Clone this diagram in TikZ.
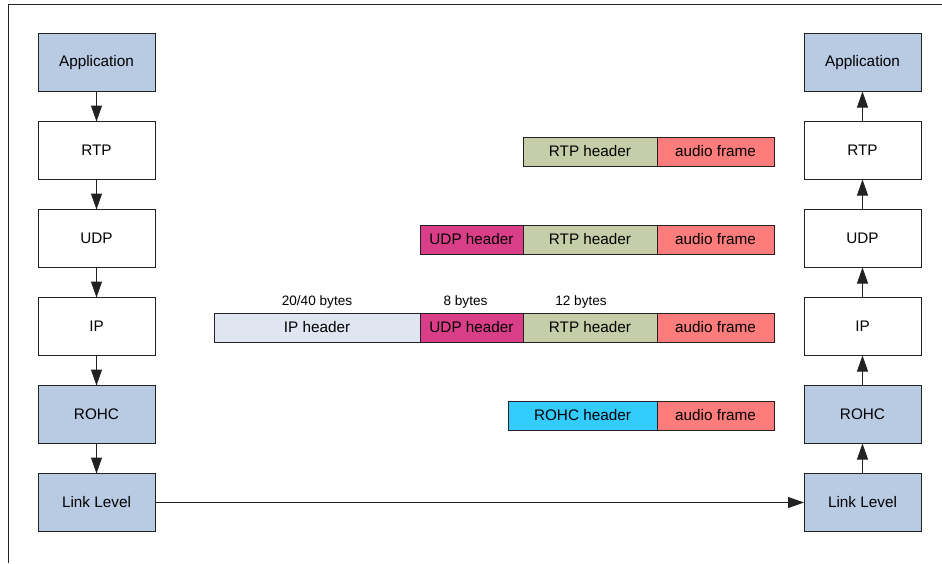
\documentclass[tikz,border=0pt]{standalone}
\usepackage{fontspec}
\setmainfont{Liberation Sans}
\usetikzlibrary{positioning,arrows.meta}
\definecolor{layerBlue}{HTML}{B9CAE3}
\definecolor{ipBg}{HTML}{DFE6F2}
\definecolor{udpBg}{HTML}{DB3E88}
\definecolor{rtpBg}{HTML}{C6CEA9}
\definecolor{audioBg}{HTML}{FF7C7C}
\definecolor{rohcBg}{HTML}{33CCFF}
\definecolor{lineDark}{HTML}{222222}
\tikzset{
  layer/.style={rectangle,draw=lineDark,fill=white,line width=1pt,
    minimum width=117pt,minimum height=58pt,inner sep=0pt,outer sep=0pt,
    align=center,font=\fontsize{15.3}{17}\selectfont},
  blayer/.style={layer,fill=layerBlue},
  field/.style={rectangle,draw=lineDark,line width=1pt,
    minimum height=29pt,inner sep=0pt,outer sep=0pt,
    font=\fontsize{15.3}{17}\selectfont},
  iphdr/.style={field,fill=ipBg,minimum width=206pt},
  udphdr/.style={field,fill=udpBg,minimum width=103pt},
  rtphdr/.style={field,fill=rtpBg,minimum width=134pt},
  rohchdr/.style={field,fill=rohcBg,minimum width=149pt},
  audio/.style={field,fill=audioBg,minimum width=117pt},
  sizelabel/.style={font=\fontsize{13.6}{15}\selectfont,inner sep=0pt},
  arrow/.style={-{Triangle[length=16pt,width=11pt]},line width=1pt,draw=lineDark}
}

\begin{document}
\begin{tikzpicture}[x=1pt,y=-1pt,node distance=88pt]
\useasboundingbox (0,0) rectangle (942,563);
% frame
\draw[line width=1pt,lineDark] (8,563) -- (8,4) -- (942,4);

% sending stack
\node[blayer] (sApp) at (96.5,62.5) {Application};
\node[layer, below of=sApp] (sRtp) {RTP};
\node[layer, below of=sRtp] (sUdp) {UDP};
\node[layer, below of=sUdp] (sIp) {IP};
\node[blayer, below of=sIp] (sRohc) {ROHC};
\node[blayer, below of=sRohc] (sLink) {Link Level};

% receiving stack
\node[blayer] (rApp) at (862.5,62.5) {Application};
\node[layer, below of=rApp] (rRtp) {RTP};
\node[layer, below of=rRtp] (rUdp) {UDP};
\node[layer, below of=rUdp] (rIp) {IP};
\node[blayer, below of=rIp] (rRohc) {ROHC};
\node[blayer, below of=rRohc] (rLink) {Link Level};

% packets
\node[audio, anchor=east] (aRtp) at (774,151.5) {audio frame};
\node[rtphdr, left=0pt of aRtp] (hRtp) {RTP header};

\node[audio, anchor=east] (aUdp) at (774,239.5) {audio frame};
\node[rtphdr, left=0pt of aUdp] (hUdpRtp) {RTP header};
\node[udphdr, left=0pt of hUdpRtp] (hUdp) {UDP header};

\node[audio, anchor=east] (aIp) at (774,327.5) {audio frame};
\node[rtphdr, left=0pt of aIp] (hIpRtp) {RTP header};
\node[udphdr, left=0pt of hIpRtp] (hIpUdp) {UDP header};
\node[iphdr, left=0pt of hIpUdp] (hIp) {IP header};

\node[audio, anchor=east] (aRohc) at (774,415.5) {audio frame};
\node[rohchdr, left=0pt of aRohc] (hRohc) {ROHC header};

% header sizes
\node[sizelabel, above=4pt of hIp] (lIp) {20/40 bytes};
\node[sizelabel, above=4pt of hIpUdp, xshift=-6pt] (lUdp) {8 bytes};
\node[sizelabel, above=4pt of hIpRtp, xshift=-9pt] (lRtp) {12 bytes};

\draw[arrow] (sApp) -- (sRtp);
\draw[arrow] (sRtp) -- (sUdp);
\draw[arrow] (sUdp) -- (sIp);
\draw[arrow] (sIp) -- (sRohc);
\draw[arrow] (sRohc) -- (sLink);
\draw[arrow] (sLink) -- (rLink);
\draw[arrow] (rLink) -- (rRohc);
\draw[arrow] (rRohc) -- (rIp);
\draw[arrow] (rIp) -- (rUdp);
\draw[arrow] (rUdp) -- (rRtp);
\draw[arrow] (rRtp) -- (rApp);
\end{tikzpicture}
\end{document}
